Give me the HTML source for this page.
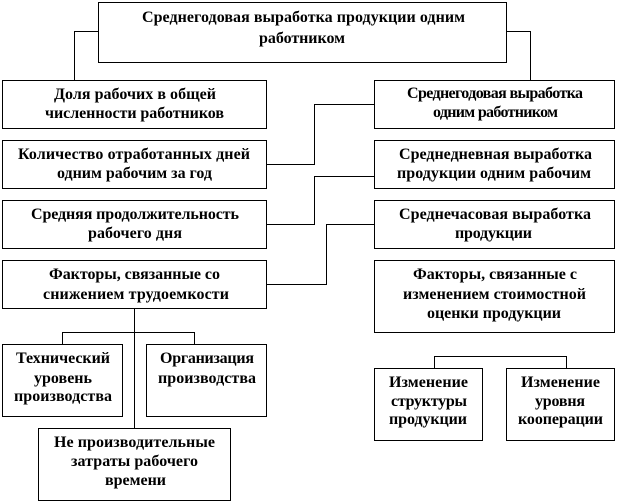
<!DOCTYPE html>
<html><head><meta charset="utf-8"><style>
html,body{margin:0;padding:0;background:#fff;width:618px;height:503px;overflow:hidden}
svg{display:block}
rect,path{fill:none;stroke:#000;stroke-width:1;shape-rendering:crispEdges}
rect{fill:#fff}
text{font-family:"Liberation Serif","Noto Serif CJK SC",serif;font-weight:bold;font-size:16px;fill:#000}
</style></head><body>
<svg width="618" height="503" viewBox="0 0 618 503" xmlns="http://www.w3.org/2000/svg">
<path d="M98.5 31.5H74.5V80M506.5 31.5H530.5V80M266 164.5H314.5V104.5H374M266 224.5H314.5V176.5H374M266 284.5H326.5V224.5H374M134.5 308V428M62.5 344V332.5H194.5V344M434.5 368V356.5H566.5V368"/>
<rect x="98.5" y="2.5" width="408" height="60"/>
<rect x="2.5" y="80.5" width="264" height="48"/>
<rect x="2.5" y="140.5" width="264" height="48"/>
<rect x="2.5" y="200.5" width="264" height="48"/>
<rect x="2.5" y="260.5" width="264" height="48"/>
<rect x="374.5" y="80.5" width="240" height="48"/>
<rect x="374.5" y="140.5" width="240" height="48"/>
<rect x="374.5" y="200.5" width="240" height="48"/>
<rect x="374.5" y="260.5" width="240" height="72"/>
<rect x="2.5" y="344.5" width="120" height="72"/>
<rect x="146.5" y="344.5" width="120" height="72"/>
<rect x="38.5" y="428.5" width="192" height="72"/>
<rect x="374.5" y="368.5" width="108" height="72"/>
<rect x="506.5" y="368.5" width="108" height="72"/>
<text x="142" y="22" textLength="323">Среднегодовая выработка продукции одним</text>
<text x="259" y="43" textLength="86">работником</text>
<text x="54" y="99" textLength="162">Доля рабочих в общей</text>
<text x="45" y="118" textLength="179">численности работников</text>
<text x="18" y="159" textLength="232">Количество отработанных дней</text>
<text x="57" y="178" textLength="155">одним рабочим за год</text>
<text x="31" y="219" textLength="208">Средняя продолжительность</text>
<text x="88" y="238" textLength="94">рабочего дня</text>
<text x="49" y="279" textLength="171">Факторы, связанные со</text>
<text x="43" y="299" textLength="186">снижением трудоемкости</text>
<text x="16" y="363" textLength="94">Технический</text>
<text x="34" y="383" textLength="58">уровень</text>
<text x="14" y="401" textLength="98">производства</text>
<text x="160" y="363" textLength="94">Организация</text>
<text x="158" y="383" textLength="98">производства</text>
<text x="54" y="447" textLength="161">Не производительные</text>
<text x="71" y="466" textLength="127">затраты рабочего</text>
<text x="105" y="485" textLength="61">времени</text>
<text x="407" y="98" textLength="176">Среднегодовая выработка</text>
<text x="433" y="117" textLength="125">одним работником</text>
<text x="399" y="159" textLength="193">Среднедневная выработка</text>
<text x="397" y="178" textLength="194">продукции одним рабочим</text>
<text x="399" y="219" textLength="192">Среднечасовая выработка</text>
<text x="455" y="238" textLength="77">продукции</text>
<text x="413" y="279" textLength="164">Факторы, связанные с</text>
<text x="403" y="299" textLength="183">изменением стоимостной</text>
<text x="427" y="318" textLength="134">оценки продукции</text>
<text x="389" y="387" textLength="79">Изменение</text>
<text x="391" y="406" textLength="76">структуры</text>
<text x="389" y="424" textLength="78">продукции</text>
<text x="521" y="387" textLength="79">Изменение</text>
<text x="535" y="406" textLength="50">уровня</text>
<text x="518" y="424" textLength="85">кооперации</text>
</svg>
</body></html>
